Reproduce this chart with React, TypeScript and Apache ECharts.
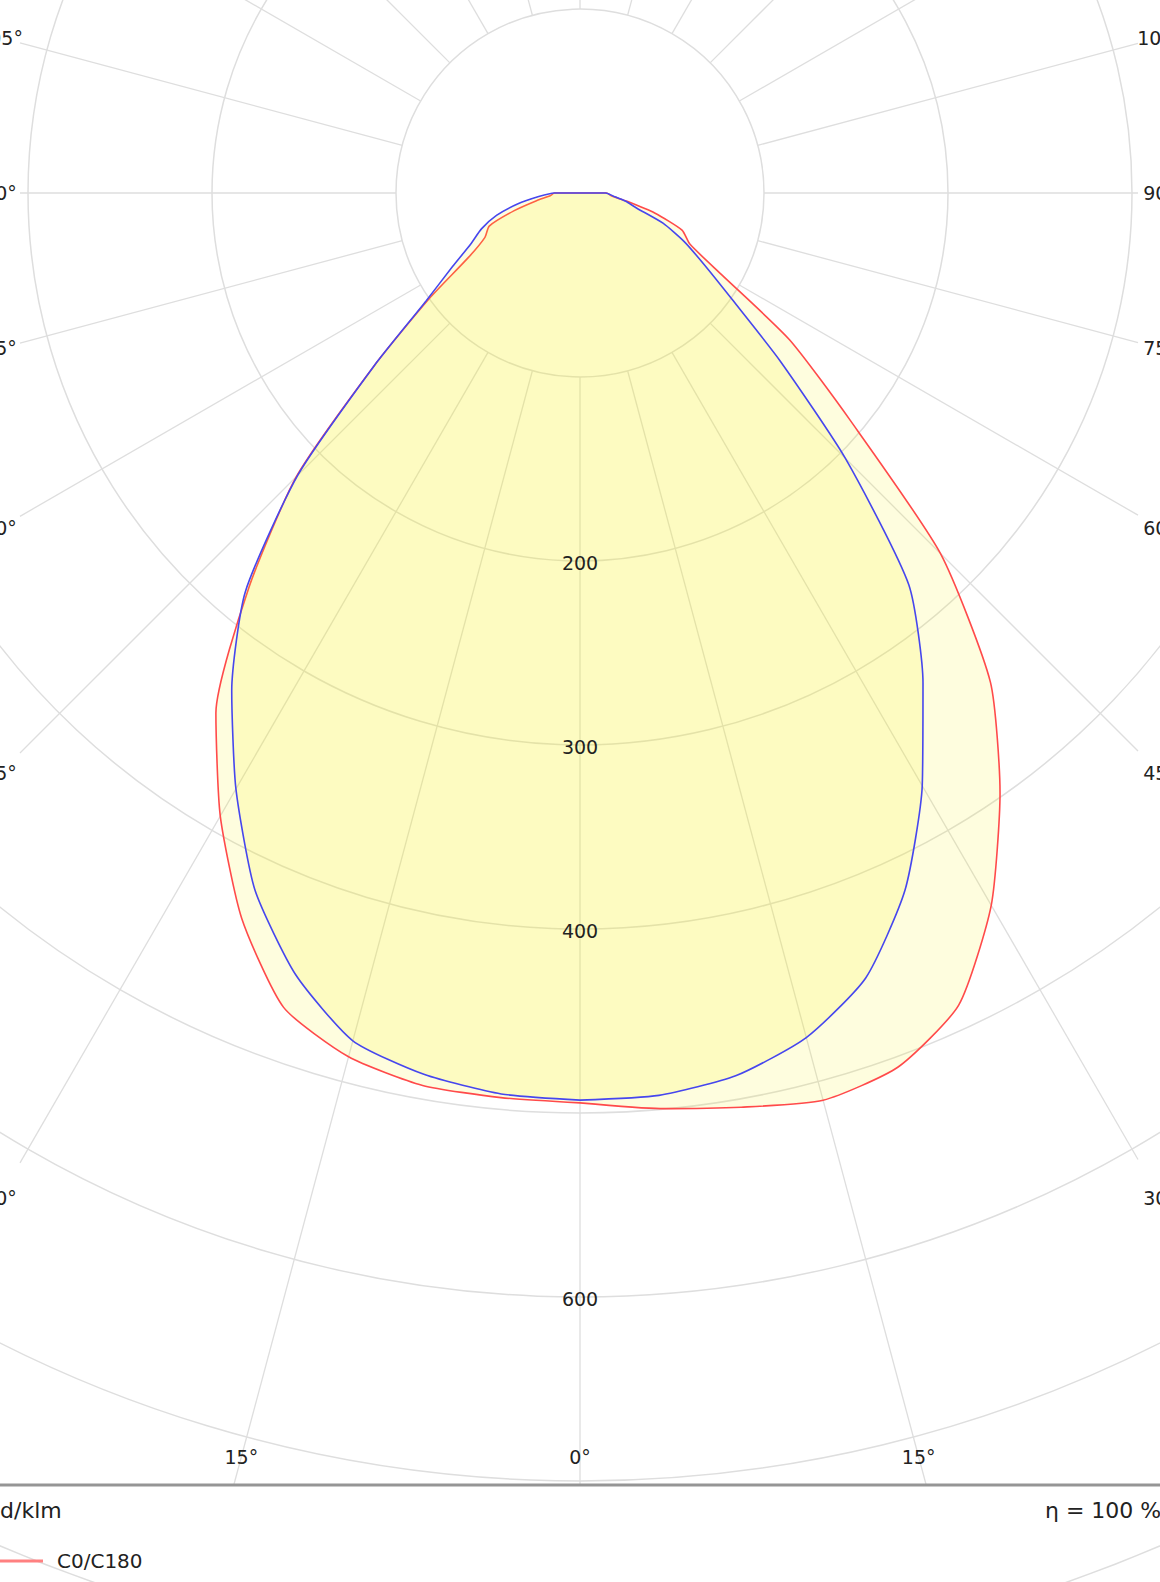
import React, { useEffect, useRef } from 'react';
import * as echarts from 'echarts';

const FONT = "'DejaVu Sans', Verdana, sans-serif";

// Gamma angles (degrees from nadir) at which the intensities were read
const GAMMA = [0, 5, 10, 15, 20, 25, 30, 35, 40, 45, 50, 55, 60, 65, 70, 75, 80, 85, 90];

// Luminous intensity in cd/klm
const C180 = [494.5, 493.5, 492.5, 486, 471, 435, 391, 345, 280, 218, 146, 100, 70, 57, 52.5, 37, 24, 16, 14];
const C0 = [494.5, 499.5, 504.5, 510.5, 505.5, 487, 447, 398, 347, 277, 191, 139, 89, 66, 59, 42, 26, 17, 14.5];
const C270 = [493, 491.5, 486.5, 477, 452, 418, 374, 330, 283, 217, 146, 102, 80, 65.5, 57, 47, 34.5, 22.5, 14];
const C90 = [493, 492.3, 487.2, 475.2, 454, 418, 372, 325, 278, 204, 142, 101, 78, 62.5, 48, 32, 25, 18, 14];

// Grid / tick definitions
const ANGLE_TICKS = [0, 15, 30, 45, 60, 75, 90, 105, 120, 135, 150, 165, 180, 195, 210, 225, 240, 255, 270, 285, 300, 315, 330, 345];
const RADIUS_LABELS = [200, 300, 400, 600];
const LEGEND_NAMES = ['C0/C180'];
const UNIT_TEXT = 'cd/klm';
const EFFICIENCY_TEXT = 'η = 100 %';

function buildCurve(left: number[], right: number[]) {
  const pts: number[][] = [];
  for (let i = 0; i < GAMMA.length; i++) pts.push([left[i], GAMMA[i]]);
  pts.push([0, 180]);
  for (let i = GAMMA.length - 1; i >= 0; i--) pts.push([right[i], 360 - GAMMA[i]]);
  return pts;
}

const FRAME = { lineLeft: 20, lineRight: 1138, lineBottom: 1485, labelLeft: 0, labelRight: 1160, labelBottom: 1457 };

function exitT(cx: number, cy: number, dx: number, dy: number, left: number, right: number, bottom: number, top: number) {
  let t = Infinity;
  let side = '';
  if (dx < -1e-9) { const v = (left - cx) / dx; if (v < t) { t = v; side = 'x'; } }
  if (dx > 1e-9) { const v = (right - cx) / dx; if (v < t) { t = v; side = 'x'; } }
  if (dy > 1e-9) { const v = (bottom - cy) / dy; if (v < t) { t = v; side = 'b'; } }
  if (dy < -1e-9) { const v = (top - cy) / dy; if (v < t) { t = v; side = 't'; } }
  return { t, side };
}

export default function App() {
  const ref = useRef<HTMLDivElement>(null);

  useEffect(() => {
    if (!ref.current) return;
    const chart = echarts.init(ref.current, undefined, { renderer: 'svg' });

    const fill = 'rgba(250, 242, 20, 0.14)';

    const option: any = {
      animation: false,
      polar: { center: [580, 193], radius: [0, 1656] },
      angleAxis: {
        type: 'value', min: 0, max: 360, interval: 15, startAngle: 270, clockwise: true,
        axisLine: { show: false }, axisTick: { show: false }, axisLabel: { show: false }, splitLine: { show: false },
      },
      radiusAxis: {
        type: 'value', min: 0, max: 900, interval: 100,
        axisLine: { show: false }, axisTick: { show: false }, axisLabel: { show: false },
        splitLine: { show: true, lineStyle: { color: '#dedede', width: 1.5 } },
      },
      legend: {
        orient: 'vertical', left: -7, top: 1551, padding: 0, itemWidth: 50, itemHeight: 3, itemGap: 18,
        data: LEGEND_NAMES, z: 70, icon: 'rect',
        itemStyle: { color: '#ff8080' },
        textStyle: { fontFamily: FONT, fontSize: 20, color: '#222', padding: [0, 0, 0, 9] },
      },
      graphic: [
        { type: 'line', z: 60, shape: { x1: 0, y1: 1485, x2: 1160, y2: 1485 }, style: { stroke: '#959595', lineWidth: 3 } },
        { type: 'text', z: 60, x: -12, y: 1510, style: { text: UNIT_TEXT, font: `22px ${FONT}`, fill: '#222', align: 'left', verticalAlign: 'middle' } },
        { type: 'text', z: 60, x: 1045, y: 1510, style: { text: EFFICIENCY_TEXT, font: `22px ${FONT}`, fill: '#222', align: 'left', verticalAlign: 'middle' } },
      ],
      series: [
        {
          type: 'custom', coordinateSystem: 'polar', z: 1, silent: true,
          data: ANGLE_TICKS.map((a) => [100, a]),
          renderItem: (params: any, api: any) => {
            const v = api.value(1);
            const c = api.coord([0, v]);
            const p = api.coord([100, v]);
            const len = Math.hypot(p[0] - c[0], p[1] - c[1]);
            const dx = (p[0] - c[0]) / len;
            const dy = (p[1] - c[1]) / len;
            const le = exitT(c[0], c[1], dx, dy, FRAME.lineLeft, FRAME.lineRight, FRAME.lineBottom, -50);
            const children: any[] = [
              {
                type: 'line',
                shape: { x1: p[0], y1: p[1], x2: c[0] + dx * le.t, y2: c[1] + dy * le.t },
                style: { stroke: '#dedede', lineWidth: 1.3 },
              },
            ];
            const la = exitT(c[0], c[1], dx, dy, FRAME.labelLeft, FRAME.labelRight, FRAME.labelBottom, 0);
            if (la.side !== 't') {
              const g = v <= 180 ? v : 360 - v;
              children.push({
                type: 'text',
                x: c[0] + dx * la.t,
                y: c[1] + dy * la.t,
                style: { text: `${Math.round(g)}°`, font: `19px ${FONT}`, fill: '#222', align: 'center', verticalAlign: 'middle' },
              });
            }
            return { type: 'group', children };
          },
        },
        {
          name: 'C0/C180', type: 'line', coordinateSystem: 'polar', z: 3,
          data: buildCurve(C180, C0), symbol: 'none', showSymbol: false, smooth: 0.2,
          lineStyle: { color: '#ff4a4a', width: 1.6 }, itemStyle: { color: '#ff8080' },
          areaStyle: { color: fill, opacity: 1 },
        },
        {
          name: 'C90/C270', type: 'line', coordinateSystem: 'polar', z: 4,
          data: buildCurve(C270, C90), symbol: 'none', showSymbol: false, smooth: 0.2,
          lineStyle: { color: '#4646ee', width: 1.6 }, itemStyle: { color: '#6f6ff0' },
          areaStyle: { color: fill, opacity: 1 },
        },
        {
          type: 'custom', coordinateSystem: 'polar', z: 10, silent: true,
          data: RADIUS_LABELS.map((r) => [r, 0]),
          renderItem: (params: any, api: any) => {
            const p = api.coord([api.value(0), 0]);
            return {
              type: 'text', x: p[0], y: p[1] + 2,
              style: { text: String(api.value(0)), font: `19px ${FONT}`, fill: '#222', align: 'center', verticalAlign: 'middle' },
            };
          },
        },
      ],
    };

    chart.setOption(option);
    return () => chart.dispose();
  }, []);

  return <div ref={ref} style={{ position: 'absolute', left: 0, top: 0, width: 1160, height: 1582 }} />;
}
